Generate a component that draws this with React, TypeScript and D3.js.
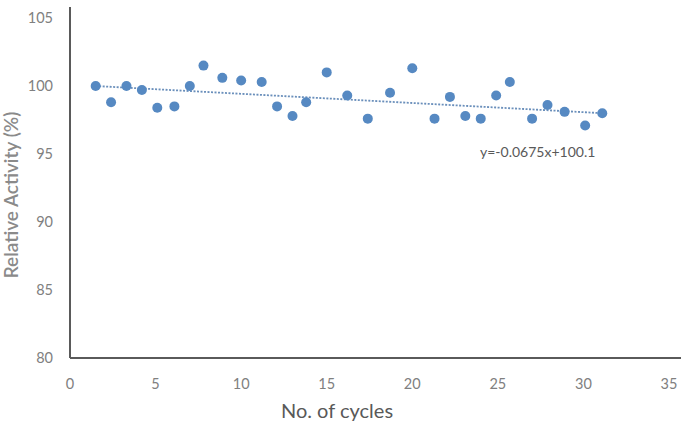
import React from "react";
import * as d3 from "d3";

// reuse cycles and measured relative activity
const cycles = [
  1.5, 2.4, 3.3, 4.2, 5.1, 6.1, 7.0, 7.8, 8.9, 10.0, 11.2, 12.1, 13.0, 13.8, 15.0,
  16.2, 17.4, 18.7, 20.0, 21.3, 22.2, 23.1, 24.0, 24.9, 25.7, 27.0, 27.9, 28.9, 30.1, 31.1,
];
const activity = [
  100.0, 98.8, 100.0, 99.7, 98.4, 98.5, 100.0, 101.5, 100.6, 100.4, 100.3, 98.5, 97.8, 98.8, 101.0,
  99.3, 97.6, 99.5, 101.3, 97.6, 99.2, 97.8, 97.6, 99.3, 100.3, 97.6, 98.6, 98.1, 97.1, 98.0,
];
const xTicks = [0, 5, 10, 15, 20, 25, 30, 35];
const yTicks = [80, 85, 90, 95, 100, 105];
const slope = -0.0675;
const intercept = 100.1;

const W = 681;
const H = 424;
const margin = { left: 70, right: 12, top: 18, bottom: 66 };
const FONT = "Lato, 'Open Sans', sans-serif";

export default function App() {
  const x = d3.scaleLinear().domain([0, 35]).range([margin.left, 669]);
  const y = d3.scaleLinear().domain([80, 105]).range([H - margin.bottom, margin.top]);

  const pts = cycles.map((c, i) => ({ c, a: activity[i] }));
  const [x0, x1] = d3.extent(cycles) as [number, number];
  const trend = d3.line<number>()
    .x((d) => x(d))
    .y((d) => y(slope * d + intercept))([x0, x1]);

  return (
    <svg
      width={W}
      height={H}
      style={{ position: "absolute", left: 0, top: 0, background: "#fff" }}
      fontFamily={FONT}
    >
      {/* axes */}
      <line x1={x(0)} x2={x(0)} y1={y(105) - 11} y2={y(80)} stroke="#5a5a5a" strokeWidth={2} />
      <line x1={x(0)} x2={W} y1={y(80)} y2={y(80)} stroke="#5a5a5a" strokeWidth={2} />

      {yTicks.map((t) => (
        <text key={t} x={53} y={y(t)} dy="0.35em" textAnchor="end" fontSize={14.5} fill="#808080">
          {t}
        </text>
      ))}
      {xTicks.map((t) => (
        <text key={t} x={x(t)} y={384} dy="0.35em" textAnchor="middle" fontSize={14.5} fill="#808080">
          {t}
        </text>
      ))}

      {/* trend line */}
      <path d={trend ?? ""} fill="none" stroke="#6a8fbb" strokeWidth={1.8} strokeDasharray="2 1.5" />

      {pts.map((p, i) => (
        <circle key={i} cx={x(p.c)} cy={y(p.a)} r={5} fill="#5689c2" />
      ))}

      <text x={480} y={157} fontSize={14} fill="#595959">
        y=-0.0675x+100.1
      </text>

      <text
        transform={`translate(11,195) rotate(-90)`}
        textAnchor="middle"
        dy="0.35em"
        fontSize={19}
        fontWeight={600}
        fill="#8a8a8a"
      >
        Relative Activity (%)
      </text>
      <text x={337} y={418} textAnchor="middle" fontSize={20} fill="#595959">
        No. of cycles
      </text>
    </svg>
  );
}
